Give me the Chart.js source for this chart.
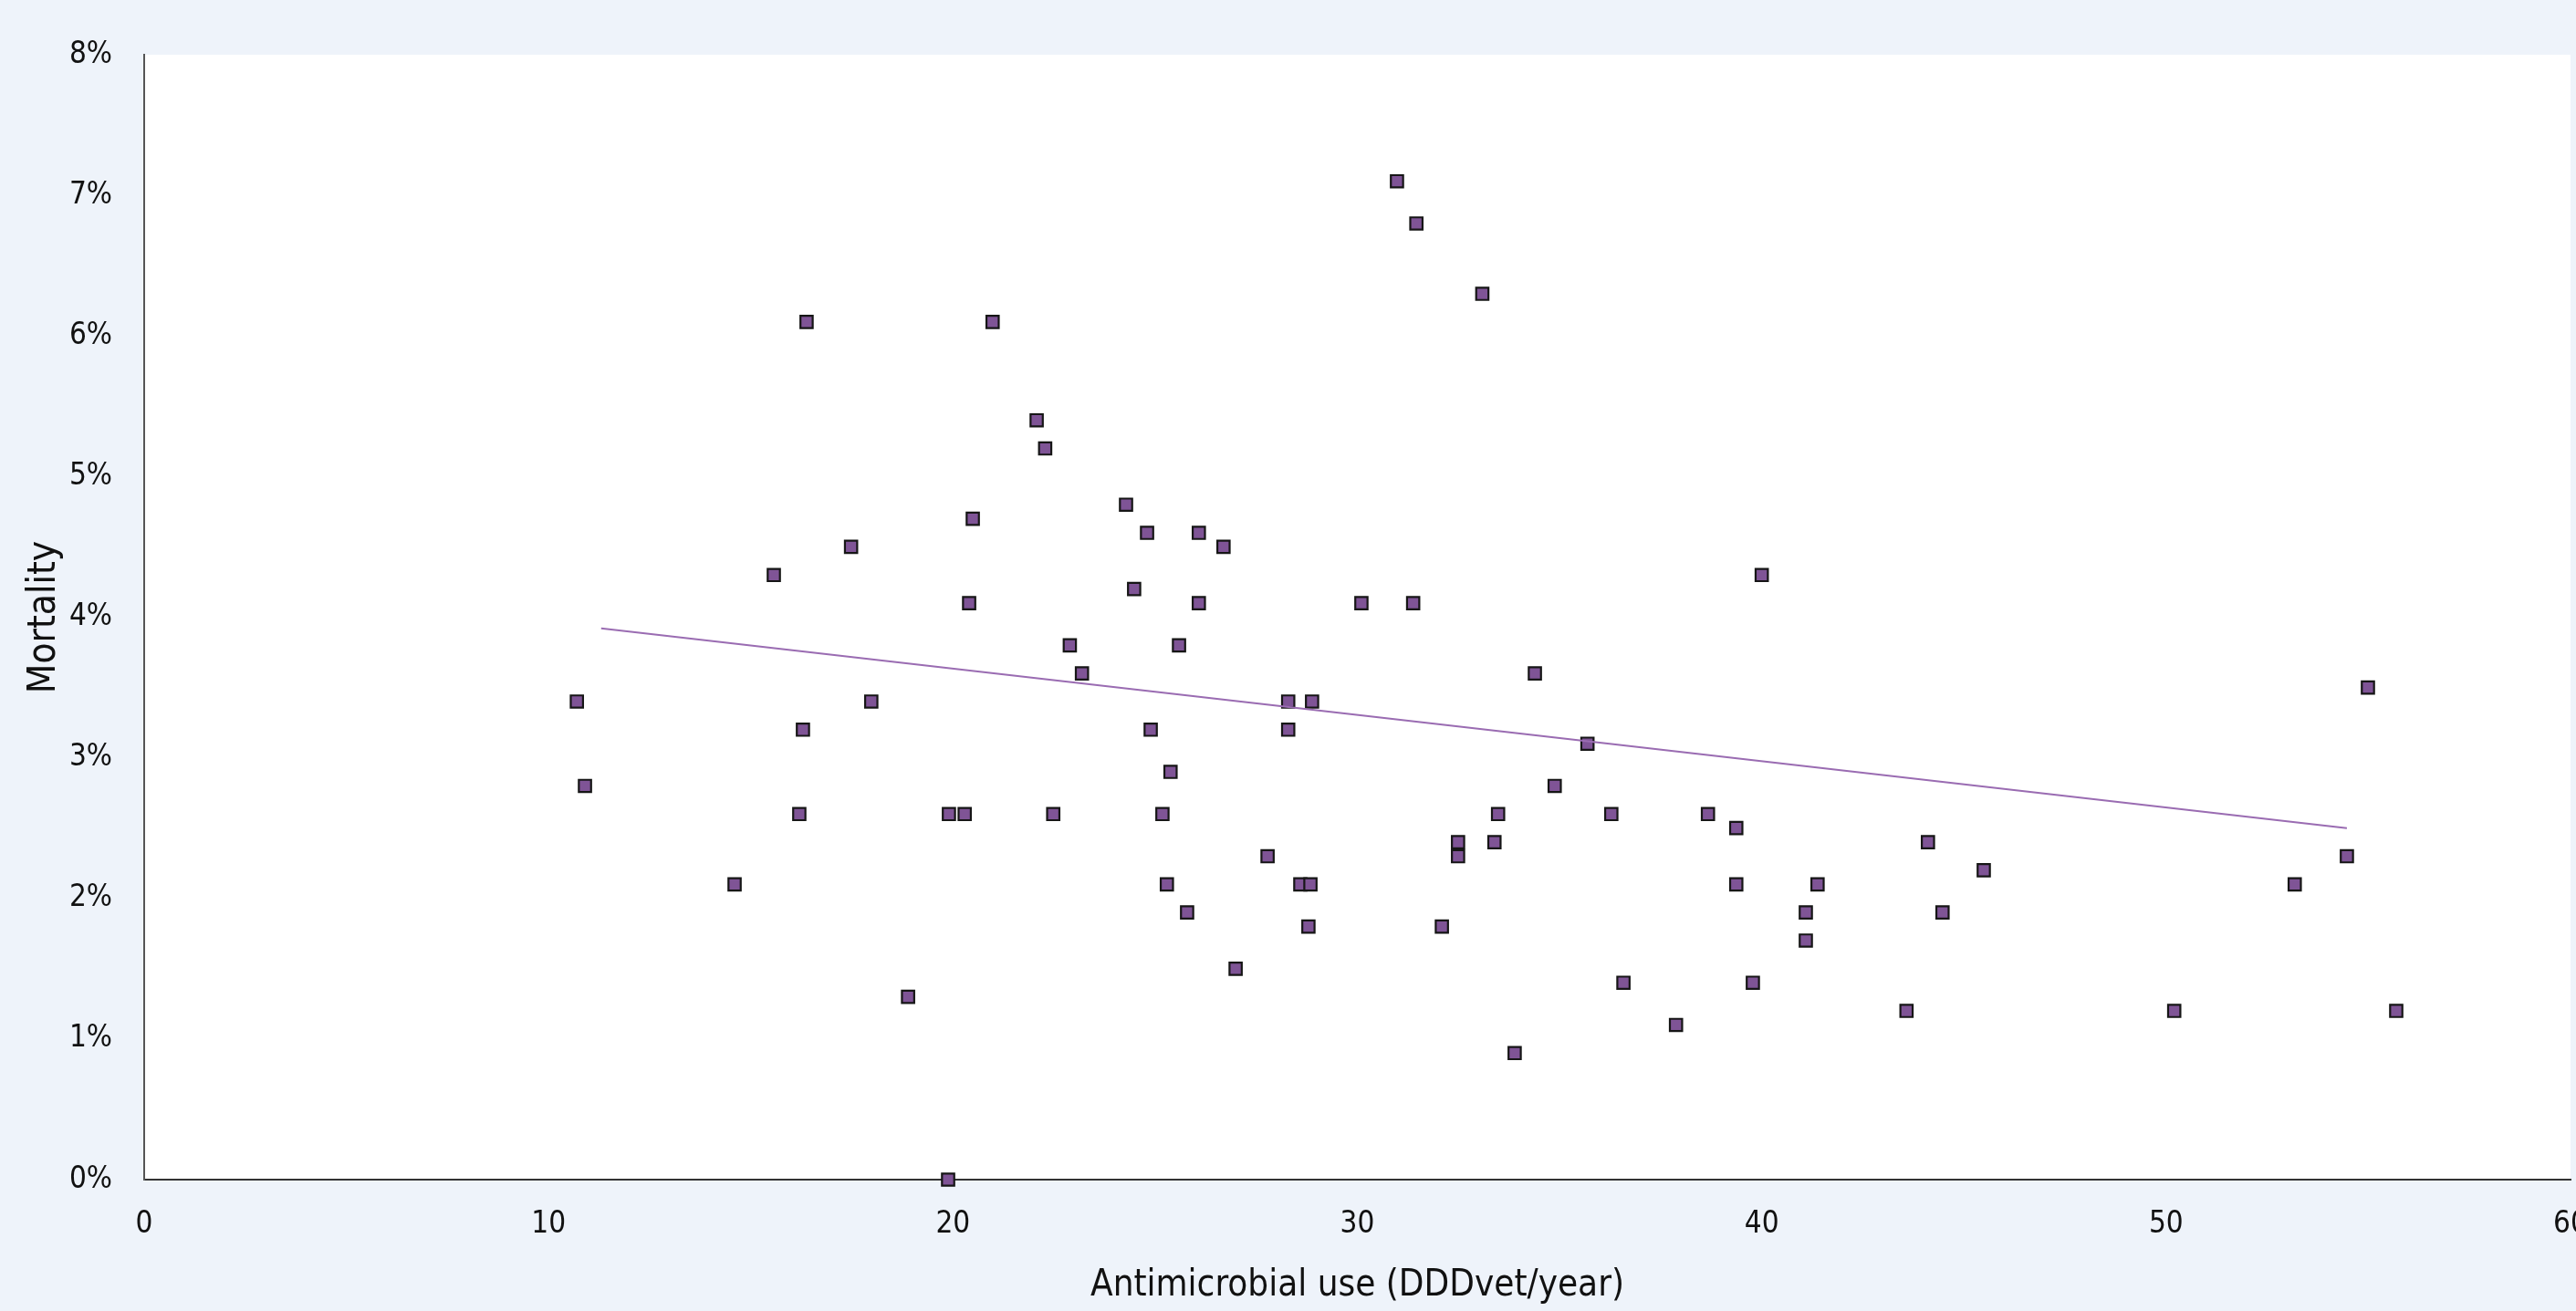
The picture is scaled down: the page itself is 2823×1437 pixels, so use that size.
<!DOCTYPE html>
<html>
<head>
<meta charset="utf-8">
<script src="https://cdn.jsdelivr.net/npm/chart.js@4"></script>
<style>
  html, body { margin: 0; padding: 0; background: #eef3fa; }
  #wrap { width: 2823px; height: 1437px; }
</style>
</head>
<body>
<div id="wrap"><canvas id="mortalityChart" width="2823" height="1437"></canvas></div>
<script>
// antimicrobial use per farm (DDDvet/year) against mortality (%)
const useDDD = [
  10.70, 10.90, 14.60, 15.57, 16.38, 16.29, 16.20, 17.48, 17.98, 18.89,
  19.90, 19.88, 20.29, 20.40, 20.49, 20.98, 22.07, 22.28, 22.48, 22.89,
  23.19, 24.28, 24.48, 24.80, 24.89, 25.18, 25.38, 25.29, 25.59, 25.79,
  26.08, 26.08, 26.69, 26.99, 27.78, 28.29, 28.29, 28.59, 28.84, 28.79,
  28.88, 30.10, 30.98, 31.46, 31.38, 32.09, 32.49, 32.49, 33.09, 33.39,
  33.48, 33.89, 34.39, 34.88, 35.69, 36.28, 36.58, 37.88, 38.67, 39.37,
  39.37, 39.78, 40.00, 41.09, 41.09, 41.38, 43.58, 44.11, 44.47, 45.49,
  50.20, 53.18, 54.47, 54.99, 55.69
];
const mortality = [
  3.4, 2.8, 2.1, 4.3, 6.1, 3.2, 2.6, 4.5, 3.4, 1.3,
  2.6, 0.0, 2.6, 4.1, 4.7, 6.1, 5.4, 5.2, 2.6, 3.8,
  3.6, 4.8, 4.2, 4.6, 3.2, 2.6, 2.9, 2.1, 3.8, 1.9,
  4.6, 4.1, 4.5, 1.5, 2.3, 3.4, 3.2, 2.1, 2.1, 1.8,
  3.4, 4.1, 7.1, 6.8, 4.1, 1.8, 2.4, 2.3, 6.3, 2.4,
  2.6, 0.9, 3.6, 2.8, 3.1, 2.6, 1.4, 1.1, 2.6, 2.5,
  2.1, 1.4, 4.3, 1.9, 1.7, 2.1, 1.2, 2.4, 1.9, 2.2,
  1.2, 2.1, 2.3, 3.5, 1.2
];
// linear trend line, both ends
const trendUse = [11.30, 54.47];
const trendMortality = [3.92, 2.50];

const fontFamily = "'Liberation Sans Narrow', 'DejaVu Sans Condensed', sans-serif";

const plotBg = {
  id: 'plotBg',
  beforeDraw(chart) {
    const {ctx, chartArea, width, height} = chart;
    ctx.save();
    ctx.fillStyle = '#eef3fa';
    ctx.fillRect(0, 0, width, height);
    ctx.fillStyle = '#ffffff';
    ctx.fillRect(chartArea.left, chartArea.top, chartArea.right - chartArea.left, chartArea.bottom - chartArea.top);
    ctx.restore();
  }
};

const farms = useDDD.map((x, i) => ({x: x, y: mortality[i]}));
const trend = trendUse.map((x, i) => ({x: x, y: trendMortality[i]}));

new Chart(document.getElementById('mortalityChart'), {
  type: 'scatter',
  data: {
    datasets: [
      {
        label: 'Trend',
        data: trend,
        showLine: true,
        borderColor: '#9a6cb2',
        borderWidth: 2,
        pointRadius: 0,
        order: 0
      },
      {
        label: 'Farms',
        data: farms,
        pointStyle: 'rect',
        pointRadius: 9.5,
        backgroundColor: '#7f5496',
        borderColor: '#161616',
        borderWidth: 2.2,
        clip: false,
        order: 1
      }
    ]
  },
  options: {
    responsive: false,
    animation: false,
    layout: {
      autoPadding: false,
      padding: { top: 60, right: 6, bottom: 0, left: 0 }
    },
    plugins: {
      legend: { display: false },
      tooltip: { enabled: false }
    },
    scales: {
      x: {
        type: 'linear',
        position: 'bottom',
        min: 0,
        max: 60,
        grid: { display: false, drawTicks: false },
        border: { display: true, color: '#333333', width: 2 },
        ticks: {
          stepSize: 10,
          padding: 30,
          color: '#111111',
          font: { family: fontFamily, size: 33 }
        },
        title: {
          display: true,
          text: 'Antimicrobial use (DDDvet/year)',
          color: '#111111',
          font: { family: fontFamily, size: 40 },
          padding: { top: 0, bottom: 3 }
        },
        afterFit(s) {
          s.height = 144;
          s.paddingLeft = 0;
          s.paddingRight = 0;
        }
      },
      y: {
        type: 'linear',
        min: 0,
        max: 8,
        grid: { display: false, drawTicks: false },
        border: { display: true, color: '#555555', width: 2 },
        ticks: {
          stepSize: 1,
          padding: 35,
          color: '#111111',
          font: { family: fontFamily, size: 33 },
          callback: v => v + '%'
        },
        title: {
          display: true,
          text: 'Mortality',
          color: '#111111',
          font: { family: fontFamily, size: 42 },
          padding: { top: 24, bottom: 0 }
        },
        afterFit(s) {
          s.width = 158;
          s.paddingTop = 0;
          s.paddingBottom = 0;
        }
      }
    }
  },
  plugins: [plotBg]
});
</script>
</body>
</html>
